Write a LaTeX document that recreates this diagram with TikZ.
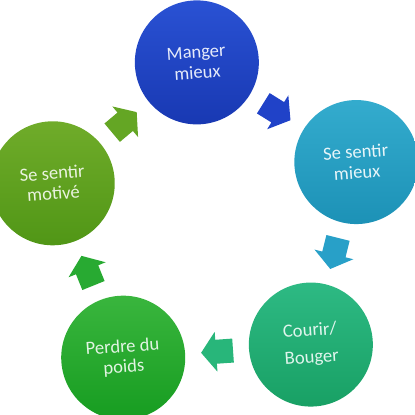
\documentclass[tikz,border=0pt]{standalone}
\usepackage{fontspec}
\setmainfont{Carlito}
\definecolor{bTop}{RGB}{42,82,212}
\definecolor{bBot}{RGB}{24,56,178}
\definecolor{tTop}{RGB}{52,172,206}
\definecolor{tBot}{RGB}{28,145,182}
\definecolor{sTop}{RGB}{46,186,132}
\definecolor{sBot}{RGB}{24,160,100}
\definecolor{gTop}{RGB}{58,182,62}
\definecolor{gBot}{RGB}{22,156,32}
\definecolor{yTop}{RGB}{112,172,42}
\definecolor{yBot}{RGB}{80,150,22}
\definecolor{aB}{RGB}{32,66,200}
\definecolor{aT}{RGB}{40,160,200}
\definecolor{aS}{RGB}{40,182,122}
\definecolor{aG}{RGB}{40,170,50}
\definecolor{aY}{RGB}{100,166,36}
\begin{document}
\begin{tikzpicture}[x=1pt,y=1pt,
  bub/.style={circle, minimum size=124pt, inner sep=0pt, align=center,
    font=\fontsize{18.6}{20.5}\selectfont, rotate=4}]
\useasboundingbox (0,0) rectangle (415,415);
\clip (0,0) rectangle (415,415);
\coordinate (o) at (208,193);
\node[bub, top color=bTop, bottom color=bBot, text=white!88!bTop] (c1) at ([shift={(94:160)}]o) {Manger\\mieux};
\node[bub, top color=tTop, bottom color=tBot, text=white!88!tTop] (c2) at ([shift={(22:160)}]o) {Se sentir\\mieux};
\node[bub, top color=sTop, bottom color=sBot, text=white!85!sTop, font=\fontsize{18.6}{27}\selectfont] (c3) at ([shift={(-50:160)}]o) {Courir/\\Bouger};
\node[bub, top color=gTop, bottom color=gBot, text=white!85!gTop] (c4) at ([shift={(-122:160)}]o) {Perdre du\\poids};
\node[bub, top color=yTop, bottom color=yBot, text=white!85!yTop] (c5) at ([shift={(166:160)}]o) {Se sentir\\motivé};
% block arrows between circles
\foreach \m/\col [count=\i] in {58/aB,-14/aT,-86/aS,-158/aG,130/aY}{
  \coordinate (a\i) at ([shift={(\m:130)}]o);
  \pgfmathsetmacro{\r}{\m-90}
  \fill[\col, shift={(a\i)}, rotate=\r]
    (-16,-12) -- (1,-12) -- (1,-20) -- (16,0) -- (1,20) -- (1,12) -- (-16,12) -- cycle;
}
\end{tikzpicture}
\end{document}
